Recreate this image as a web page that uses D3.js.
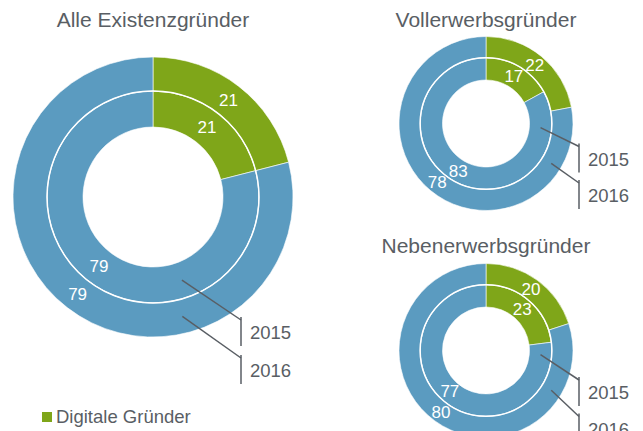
<!DOCTYPE html>
<html>
<head>
<meta charset="utf-8">
<script src="https://cdn.jsdelivr.net/npm/d3@7"></script>
<style>
  body { margin: 0; background: #fff; }
  text { font-family: "Liberation Sans", Arial, sans-serif; }
</style>
</head>
<body>
<svg id="chart" width="643" height="431"></svg>
<script>
// chart data
const titles = ["Alle Existenzgründer", "Vollerwerbsgründer", "Nebenerwerbsgründer"]
const years = ["2015", "2016"]
const categories = ["Digitale Gründer", "Übrige Gründer"]
const digital2015 = [21, 17, 23]
const digital2016 = [21, 22, 20]
const other2015 = [79, 83, 77]
const other2016 = [79, 78, 80]

// layout of each donut (positions only, no values)
const layout = [
    {cx: 153, cy: 197, r: 140, titleY: 27, label: 17, a15: 160.8, a16: 166.2, endDx: 88, end15: 123, end16: 161},
    {cx: 486, cy: 123.5, r: 87, titleY: 27, label: 17, a15: 94.4, a16: 121.4, endDx: 93, end15: 23, end16: 59.5},
    {cx: 486, cy: 350.5, r: 87, titleY: 253, label: 17, a15: 94.4, a16: 121.4, endDx: 93, end15: 29.5, end16: 66}
]

const colour = d3.scaleOrdinal().domain(categories).range(["#7fa619", "#5b9bc0"])
const textGrey = "#595e64"

const svg = d3.select('#chart')
const pie = d3.pie().sort(null).value(d => d.value)

titles.forEach((title, i) => {
    let L = layout[i]
    let holeR = L.r * 0.5
    let sepR = L.r * 0.757
    //inner ring is 2015, outer ring is 2016
    let rings = [
        {year: years[0], values: [digital2015[i], other2015[i]], r0: holeR, r1: sepR},
        {year: years[1], values: [digital2016[i], other2016[i]], r0: sepR, r1: L.r}
    ]
    let g = svg.append('g').attr('transform', `translate(${L.cx},${L.cy})`)

    rings.forEach(ring => {
        let slices = pie(ring.values.map((v, k) => ({cat: categories[k], value: v})))
        let arc = d3.arc().innerRadius(ring.r0).outerRadius(ring.r1)
        g.selectAll(null).data(slices).join('path')
            .attr('d', arc)
            .attr('fill', d => colour(d.data.cat))
            .attr('stroke', '#fff')
            .attr('stroke-width', 0.6)
        g.selectAll(null).data(slices).join('text')
            .attr('transform', d => `translate(${arc.centroid(d)})`)
            .attr('text-anchor', 'middle')
            .attr('dy', '0.35em')
            .attr('fill', '#fff')
            .attr('font-size', L.label)
            .text(d => d.data.value)
    })
    //white separator circle between the rings
    g.append('circle').attr('r', sepR)
        .attr('fill', 'none').attr('stroke', '#fff').attr('stroke-width', 1.5)

    svg.append('text')
        .attr('x', L.cx).attr('y', L.titleY)
        .attr('text-anchor', 'middle')
        .attr('font-size', 21)
        .attr('fill', textGrey)
        .text(title)

    //callouts for the rings
    let callouts = [
        {year: years[0], start: d3.pointRadial(L.a15 * Math.PI / 180, (holeR + sepR) / 2), endY: L.end15},
        {year: years[1], start: d3.pointRadial(L.a16 * Math.PI / 180, (sepR + L.r) / 2), endY: L.end16}
    ]
    callouts.forEach(c => {
        let ex = L.endDx, ey = c.endY
        g.append('line')
            .attr('x1', c.start[0]).attr('y1', c.start[1])
            .attr('x2', ex).attr('y2', ey)
            .attr('stroke', textGrey).attr('stroke-width', 1.5)
        g.append('line')
            .attr('x1', ex).attr('y1', ey - 3)
            .attr('x2', ex).attr('y2', ey + 26)
            .attr('stroke', textGrey).attr('stroke-width', 1.5)
        g.append('text')
            .attr('x', ex + 9).attr('y', ey + 13)
            .attr('dy', '0.35em')
            .attr('font-size', 18.5)
            .attr('fill', textGrey)
            .text(c.year)
    })
})

// legend, only the digital category is shown
let legend = svg.append('g').attr('transform', 'translate(42,412)')
legend.append('rect').attr('width', 10).attr('height', 10).attr('fill', colour(categories[0]))
legend.append('text').attr('x', 14).attr('y', 11)
    .attr('font-size', 18.5).attr('fill', textGrey)
    .text(categories[0])
</script>
</body>
</html>
